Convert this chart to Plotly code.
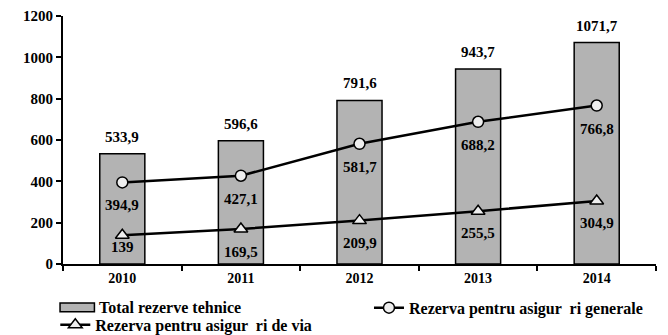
import plotly.graph_objects as go

years = ["2010", "2011", "2012", "2013", "2014"]
total_rezerve = [533.9, 596.6, 791.6, 943.7, 1071.7]
rezerva_generale = [394.9, 427.1, 581.7, 688.2, 766.8]
rezerva_viata = [139, 169.5, 209.9, 255.5, 304.9]
y_ticks = [0, 200, 400, 600, 800, 1000, 1200]

name_total = "Total rezerve tehnice"
name_generale = "Rezerva pentru asigur  ri generale"
name_viata = "Rezerva pentru asigur  ri de via"

FONT = "Liberation Serif"
BAR_FILL = "#b3b3b3"


def fmt(v):
    s = f"{v:g}"
    return s.replace(".", ",")


def bold(s):
    return f"<b>{s}</b>"


fig = go.Figure()

fig.add_trace(go.Bar(
    x=years, y=total_rezerve, name=bold(name_total), showlegend=False,
    marker=dict(color=BAR_FILL, line=dict(color="black", width=1.5)),
    width=0.38,
))
fig.add_trace(go.Scatter(
    x=years, y=rezerva_generale, name=bold(name_generale),
    mode="lines+markers", legend="legend2",
    line=dict(color="black", width=2.5),
    marker=dict(symbol="circle", size=11, color="#eeeeee",
                line=dict(color="black", width=1.5)),
))
fig.add_trace(go.Scatter(
    x=years, y=rezerva_viata, name=bold(name_viata),
    mode="lines+markers", legend="legend3",
    line=dict(color="black", width=2.5),
    marker=dict(symbol="triangle-up", size=12, color="#eeeeee",
                line=dict(color="black", width=1.5)),
))

label_font = dict(family=FONT, size=15, color="black")

# value labels: totals above the bars, series values below their markers
for i, v in enumerate(total_rezerve):
    fig.add_annotation(x=i, y=v, text=bold(fmt(v)), showarrow=False,
                       yshift=17, font=label_font)
for i, v in enumerate(rezerva_generale):
    fig.add_annotation(x=i, y=v, text=bold(fmt(v)), showarrow=False,
                       yshift=-23, font=label_font)
viata_shift = [-12, -23, -22, -22, -22]
for i, (v, s) in enumerate(zip(rezerva_viata, viata_shift)):
    fig.add_annotation(x=i, y=v, text=bold(fmt(v)), showarrow=False,
                       yshift=s, font=label_font)

legend_font = dict(family=FONT, size=16, color="black")
legend_common = dict(orientation="h", xanchor="left", yanchor="top",
                     font=legend_font, itemwidth=30, bgcolor="rgba(0,0,0,0)")

# legend key for the bar series: a wide grey box with its caption
fig.add_shape(type="rect", xref="paper", yref="paper",
              x0=-0.005, x1=0.053, y0=-0.157, y1=-0.193,
              fillcolor=BAR_FILL, line=dict(color="black", width=1.5))
fig.add_annotation(xref="paper", yref="paper", x=0.057, y=-0.175,
                   xanchor="left", yanchor="middle", showarrow=False,
                   text=bold(name_total), font=legend_font)

fig.update_layout(
    width=668, height=335,
    margin=dict(l=63, r=12, t=16, b=71, autoexpand=False),
    plot_bgcolor="white", paper_bgcolor="white",
    font=dict(family=FONT, size=13, color="black"),
    showlegend=True,
    legend2=dict(x=0.516, y=-0.108, **legend_common),
    legend3=dict(x=-0.013, y=-0.177, **legend_common),
    xaxis=dict(
        type="category", range=[-0.5, 4.5], showline=True, linecolor="black",
        linewidth=2, ticks="outside", tickson="boundaries", ticklen=5,
        tickwidth=2, tickcolor="black", showgrid=False,
        tickmode="array", tickvals=years, ticktext=[bold(y) for y in years],
        tickfont=dict(family=FONT, size=14, color="black"),
    ),
    yaxis=dict(
        range=[0, 1200], showline=True, linecolor="black",
        linewidth=2, ticks="outside", ticklen=5, tickwidth=2,
        tickcolor="black", showgrid=False, zeroline=False,
        tickmode="array", tickvals=y_ticks,
        ticktext=[bold(t) for t in y_ticks],
        tickfont=dict(family=FONT, size=15, color="black"),
    ),
)

fig.write_html("out.html")
